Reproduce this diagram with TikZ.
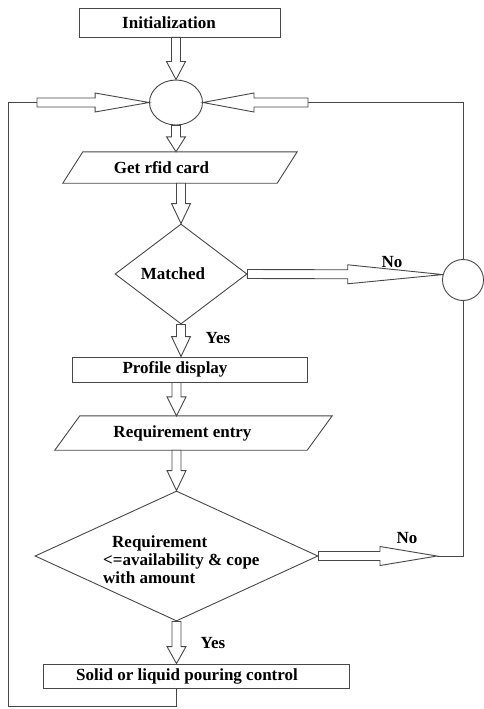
\documentclass[tikz,border=0pt]{standalone}
\usepackage{fontspec}
\setmainfont{Liberation Serif}
\usetikzlibrary{shapes.geometric,calc}
\tikzset{
  ln/.style={draw=black!72, line width=0.9pt},
  txt/.style={inner sep=0pt, font=\fontsize{17}{18}\selectfont\bfseries, text=black},
  box/.style={ln, txt, rectangle},
}
% hollow block arrow: start, end, head length
\newcommand\hollow[3]{%
  \draw[ln, fill=white] let \p1=#1, \p2=#2,
     \n1={atan2(\y2-\y1,\x2-\x1)}, \n2={veclen(\x2-\x1,\y2-\y1)} in
     ([shift={(\p1)},rotate=\n1]0pt,4.5pt)
  -- ([shift={(\p1)},rotate=\n1]\n2-#3,4.5pt)
  -- ([shift={(\p1)},rotate=\n1]\n2-#3,9.5pt)
  -- ([shift={(\p1)},rotate=\n1]\n2,0pt)
  -- ([shift={(\p1)},rotate=\n1]\n2-#3,-9.5pt)
  -- ([shift={(\p1)},rotate=\n1]\n2-#3,-4.5pt)
  -- ([shift={(\p1)},rotate=\n1]0pt,-4.5pt) -- cycle;}
\begin{document}
\begin{tikzpicture}[x=1pt,y=-1pt]
\useasboundingbox (0,0) rectangle (484,709);
% shapes
\node[box, minimum width=201pt, minimum height=29pt] (init) at (179.5,22.5) {\hspace*{-21pt}Initialization};
\node[ln, ellipse, minimum width=53pt, minimum height=45pt, inner sep=0pt] (c1) at (176,102.5) {};
\node[txt, minimum width=234pt, minimum height=31pt] (rfid) at (180,167.5) {\hspace*{-37pt}Get rfid card};
\draw[ln] (rfid.south west) -- ([xshift=-20pt]rfid.south east) -- (rfid.north east) -- ([xshift=20pt]rfid.north west) -- cycle;
\node[txt, ln, diamond, minimum width=132pt, minimum height=100pt] (m) at (181,274) {\hspace*{-16pt}Matched};
\node[box, minimum width=235pt, minimum height=25pt] (prof) at (189.5,369.5) {\hspace*{-29pt}Profile display};
\node[txt, minimum width=277pt, minimum height=34pt] (req) at (193.5,433) {\hspace*{-22pt}Requirement entry};
\draw[ln] (req.south west) -- ([xshift=-25pt]req.south east) -- (req.north east) -- ([xshift=25pt]req.north west) -- cycle;
\node[ln, diamond, minimum width=283pt, minimum height=130pt, inner sep=0pt] (cond) at (176.5,556) {};
\node[txt, align=left, anchor=west] (condtxt) at (103,560) {\hspace*{9pt}Requirement\\<=availability \& cope\\with amount};
\node[box, minimum width=306pt, minimum height=24pt] (solid) at (196,676) {\hspace*{-18pt}Solid or liquid pouring control};
\node[ln, circle, minimum size=41pt, inner sep=0pt] (c2) at (463,280) {};
% free ends
\coordinate (la) at (37,102.5);
\coordinate (ra) at (308,102.5);
\coordinate (lb) at (8,706);
\coordinate (nb) at (437,556);
% plain lines
\draw[ln] (cond.south |- solid.south) |- (lb) |- (la);
\draw[ln] (c2.north) |- (ra);
\draw[ln] (nb) -| (c2.south);
% hollow arrows
\hollow{(c1.north |- init.south)}{(c1.north)}{18pt}
\hollow{(c1.south)}{(c1.south |- rfid.north)}{15pt}
\hollow{(m.north |- rfid.south)}{(m.north)}{20pt}
\hollow{(m.south)}{(m.south |- prof.north)}{20pt}
\hollow{(cond.north |- prof.south)}{(cond.north |- req.north)}{19pt}
\hollow{(cond.north |- req.south)}{(cond.north)}{20pt}
\hollow{(cond.south)}{(cond.south |- solid.north)}{17pt}
\hollow{(la)}{(c1.west)}{54pt}
\hollow{(ra)}{(c1.east)}{51pt}
\hollow{(m.east)}{(c2.165)}{95pt}
\hollow{(cond.east)}{(nb)}{57pt}
% labels
\node[txt] (no1) at (392,262) {No};
\node[txt] (yes1) at (218,338) {Yes};
\node[txt] (no2) at (407,538) {No};
\node[txt] (yes2) at (213,643) {Yes};
\end{tikzpicture}
\end{document}
